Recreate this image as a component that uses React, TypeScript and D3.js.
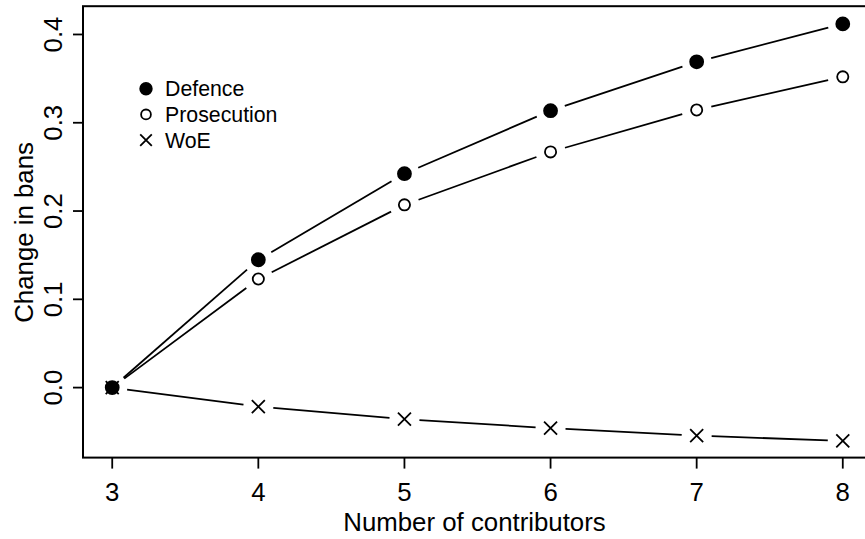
import React, { useEffect, useRef } from "react";
import * as d3 from "d3";

const contributors = [3, 4, 5, 6, 7, 8];
const defence = [0, 0.1448, 0.2423, 0.3137, 0.369, 0.412];
const prosecution = [0, 0.123, 0.207, 0.267, 0.3145, 0.352];
const woe = [0, -0.0215, -0.0358, -0.046, -0.0544, -0.0604];
const yTicks = [0, 0.1, 0.2, 0.3, 0.4];
const legendLabels = ["Defence", "Prosecution", "WoE"];

const App = () => {
  const ref = useRef(null);

  useEffect(() => {
    const width = 865;
    const height = 539;
    const font = "'Liberation Sans', Arial, Helvetica, sans-serif";
    const axisSize = 25.8;

    const svg = d3.select(ref.current)
      .attr("width", width)
      .attr("height", height);

    svg.selectAll("*").remove();

    // R style 4% padding on both axes
    const allY = [...defence, ...prosecution, ...woe];
    const yMin = d3.min(allY);
    const yMax = d3.max(allY);
    const yPad = (yMax - yMin) * 0.04;
    const xPad = (8 - 3) * 0.04;

    const x = d3.scaleLinear()
      .domain([3 - xPad, 8 + xPad])
      .range([83, 872]);

    const y = d3.scaleLinear()
      .domain([yMin - yPad, yMax + yPad])
      .range([457.6, 7.2]);

    // plot box
    svg.append("rect")
      .attr("x", x.range()[0])
      .attr("y", y.range()[1] - 1)
      .attr("width", x.range()[1] - x.range()[0])
      .attr("height", y.range()[0] - y.range()[1] + 1)
      .attr("fill", "none")
      .attr("stroke", "#000")
      .attr("stroke-width", 2);

    // x axis
    const bottom = y.range()[0];
    svg.selectAll(".xtick")
      .data(contributors)
      .enter()
      .append("line")
      .attr("x1", d => x(d))
      .attr("x2", d => x(d))
      .attr("y1", bottom)
      .attr("y2", bottom + 11)
      .attr("stroke", "#000")
      .attr("stroke-width", 1.8);

    svg.selectAll(".xlab")
      .data(contributors)
      .enter()
      .append("text")
      .attr("x", d => x(d))
      .attr("y", 501)
      .attr("text-anchor", "middle")
      .attr("font-family", font)
      .attr("font-size", axisSize)
      .text(d => d);

    svg.append("text")
      .attr("x", (x.range()[0] + x.range()[1]) / 2 - 3)
      .attr("y", 531)
      .attr("text-anchor", "middle")
      .attr("font-family", font)
      .attr("font-size", axisSize)
      .text("Number of contributors");

    // y axis
    const left = x.range()[0];
    svg.selectAll(".ytick")
      .data(yTicks)
      .enter()
      .append("line")
      .attr("x1", left - 10)
      .attr("x2", left)
      .attr("y1", d => y(d))
      .attr("y2", d => y(d))
      .attr("stroke", "#000")
      .attr("stroke-width", 1.8);

    svg.selectAll(".ylab")
      .data(yTicks)
      .enter()
      .append("text")
      .attr("transform", d => `translate(62,${y(d)}) rotate(-90)`)
      .attr("text-anchor", "middle")
      .attr("font-family", font)
      .attr("font-size", axisSize)
      .text(d => d3.format(".1f")(d));

    svg.append("text")
      .attr("transform", `translate(33,${(y.range()[0] + y.range()[1]) / 2}) rotate(-90)`)
      .attr("text-anchor", "middle")
      .attr("font-family", font)
      .attr("font-size", axisSize)
      .text("Change in bans");

    // lines with gaps around the points (type = "b")
    const gap = 15;
    const drawSeries = (values, shape) => {
      const pts = values.map((v, i) => [x(contributors[i]), y(v)]);
      const segs = d3.pairs(pts).map(([a, b]) => {
        const dx = b[0] - a[0];
        const dy = b[1] - a[1];
        const len = Math.sqrt(dx * dx + dy * dy);
        const ux = dx / len;
        const uy = dy / len;
        return [[a[0] + ux * gap, a[1] + uy * gap], [b[0] - ux * gap, b[1] - uy * gap]];
      });
      svg.append("g")
        .selectAll("line")
        .data(segs)
        .enter()
        .append("line")
        .attr("x1", d => d[0][0])
        .attr("y1", d => d[0][1])
        .attr("x2", d => d[1][0])
        .attr("y2", d => d[1][1])
        .attr("stroke", "#000")
        .attr("stroke-width", 1.8);
      drawMarks(pts, shape, 6.5);
    };

    const drawMarks = (pts, shape, r) => {
      const g = svg.append("g");
      if (shape === "cross") {
        pts.forEach(([px, py]) => {
          g.append("path")
            .attr("d", `M${px - r},${py - r}L${px + r},${py + r}M${px - r},${py + r}L${px + r},${py - r}`)
            .attr("stroke", "#000")
            .attr("stroke-width", 1.8)
            .attr("fill", "none");
        });
      } else {
        g.selectAll("circle")
          .data(pts)
          .enter()
          .append("circle")
          .attr("cx", d => d[0])
          .attr("cy", d => d[1])
          .attr("r", shape === "filled" ? r : r - 0.9)
          .attr("fill", shape === "filled" ? "#000" : "#fff")
          .attr("stroke", "#000")
          .attr("stroke-width", 1.8);
      }
    };

    drawSeries(woe, "cross");
    drawSeries(prosecution, "open");
    drawSeries(defence, "filled");

    // legend
    const shapes = ["filled", "open", "cross"];
    legendLabels.forEach((label, i) => {
      const ly = 88.7 + i * 25.7;
      drawMarks([[146, ly]], shapes[i], 5.8);
      svg.append("text")
        .attr("x", 165)
        .attr("y", ly)
        .attr("dy", "0.35em")
        .attr("font-family", font)
        .attr("font-size", 21.3)
        .text(label);
    });
  }, []);

  return (
    <div style={{ position: "absolute", left: 0, top: 0 }}>
      <svg ref={ref} style={{ display: "block" }}></svg>
    </div>
  );
};

export default App;
